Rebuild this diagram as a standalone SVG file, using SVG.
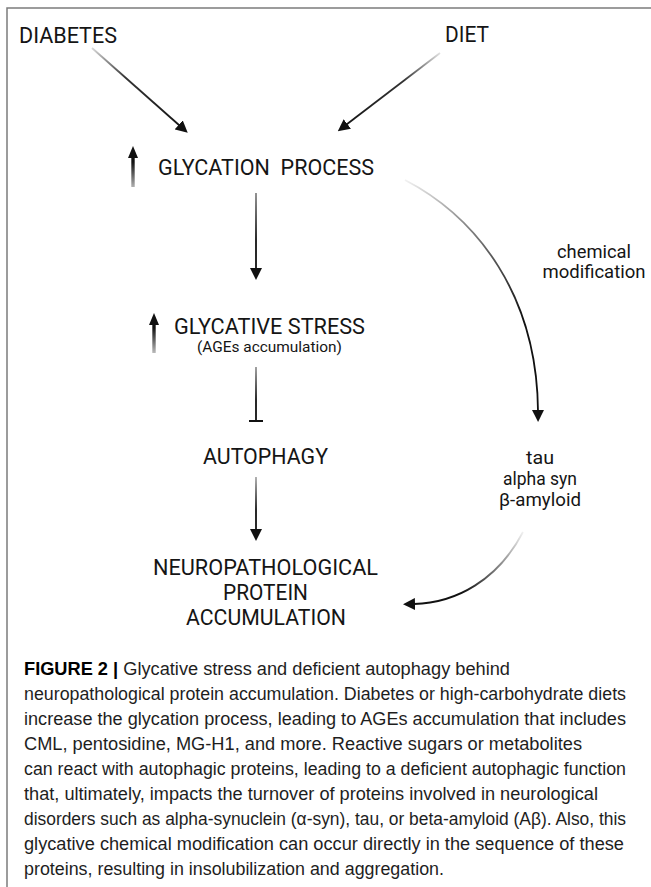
<svg xmlns="http://www.w3.org/2000/svg" width="651" height="887" viewBox="0 0 651 887">
<style>
.lbl{font-family:Roboto,"Liberation Sans",sans-serif;fill:#151515}
.big{font-size:22.5px}
.mid{font-size:18.5px}
.sml{font-size:15px}
.cap{font-family:"Liberation Sans",Arial,sans-serif;font-size:17.5px;fill:#1e1e1e}
.ln{fill:none;stroke-width:1.8}
.up{fill:none;stroke-width:3.4}
.frame{stroke:#7c7c7c;stroke-width:1.5;fill:none}
</style>
<defs>
<marker id="ah" viewBox="0 0 12 12" refX="1" refY="6" markerWidth="12" markerHeight="12" markerUnits="userSpaceOnUse" orient="auto">
<path d="M0,0 L12,6 L0,12 z" fill="#111"/>
</marker>
<marker id="ahs" viewBox="0 0 12 10" refX="1" refY="5" markerWidth="12" markerHeight="10" markerUnits="userSpaceOnUse" orient="auto">
<path d="M0,0 L12,5 L0,10 z" fill="#111"/>
</marker>
<linearGradient id="gDiab" gradientUnits="userSpaceOnUse" x1="92" y1="48" x2="188" y2="133">
<stop offset="0" stop-color="#d8d8d8"/><stop offset="0.35" stop-color="#333"/><stop offset="1" stop-color="#111"/>
</linearGradient>
<linearGradient id="gDiet" gradientUnits="userSpaceOnUse" x1="440" y1="53" x2="337" y2="132">
<stop offset="0" stop-color="#e0e0e0"/><stop offset="0.35" stop-color="#333"/><stop offset="1" stop-color="#111"/>
</linearGradient>
<linearGradient id="gCurve" gradientUnits="userSpaceOnUse" x1="405" y1="180" x2="520" y2="320">
<stop offset="0" stop-color="#f2f2f2"/><stop offset="0.4" stop-color="#888"/><stop offset="1" stop-color="#111"/>
</linearGradient>
<linearGradient id="gLow" gradientUnits="userSpaceOnUse" x1="523" y1="532" x2="462" y2="593">
<stop offset="0" stop-color="#f0f0f0"/><stop offset="1" stop-color="#111"/>
</linearGradient>
<linearGradient id="gV1" gradientUnits="userSpaceOnUse" x1="0" y1="193" x2="0" y2="240">
<stop offset="0" stop-color="#888"/><stop offset="1" stop-color="#111"/>
</linearGradient>
<linearGradient id="gV2" gradientUnits="userSpaceOnUse" x1="0" y1="367" x2="0" y2="400">
<stop offset="0" stop-color="#999"/><stop offset="1" stop-color="#111"/>
</linearGradient>
<linearGradient id="gV3" gradientUnits="userSpaceOnUse" x1="0" y1="477" x2="0" y2="510">
<stop offset="0" stop-color="#aaa"/><stop offset="1" stop-color="#111"/>
</linearGradient>
<linearGradient id="gUp1" gradientUnits="userSpaceOnUse" x1="0" y1="162" x2="0" y2="187">
<stop offset="0" stop-color="#111"/><stop offset="1" stop-color="#b0b0b0"/>
</linearGradient>
<linearGradient id="gUp2" gradientUnits="userSpaceOnUse" x1="0" y1="328" x2="0" y2="353">
<stop offset="0" stop-color="#111"/><stop offset="1" stop-color="#bbb"/>
</linearGradient>
</defs>
<rect width="651" height="887" fill="#fff"/>
<path class="frame" d="M7,887 L7,8 L651,8"/>

<g id="connectors">
<path class="ln" stroke="url(#gDiab)" d="M92,48 L179.5,125.5" marker-end="url(#ah)"/>
<path class="ln" stroke="url(#gDiet)" d="M440,53 L346.5,124.5" marker-end="url(#ah)"/>
<path class="ln" stroke="url(#gV1)" d="M256,193 L256,269" marker-end="url(#ah)"/>
<path class="ln" stroke="url(#gV2)" d="M256,367 L256,421 M249,421 L263,421"/>
<path class="ln" stroke="url(#gV3)" d="M256,477 L256,530" marker-end="url(#ah)"/>
<path class="ln" stroke="url(#gCurve)" stroke-width="2.2" d="M405,180 C478,218 537,296 538,411" marker-end="url(#ah)"/>
<path class="ln" stroke="url(#gLow)" stroke-width="2.2" d="M523,532 C498,580 456,603 414,604" marker-end="url(#ah)"/>
</g>

<g id="diabetes"><text class="lbl big" x="19" y="43" textLength="98" lengthAdjust="spacingAndGlyphs">DIABETES</text></g>
<g id="diet"><text class="lbl big" x="445" y="42" textLength="44" lengthAdjust="spacingAndGlyphs">DIET</text></g>

<g id="glycation">
<path class="up" stroke="url(#gUp1)" d="M133,187 L133,157" marker-end="url(#ahs)"/>
<text class="lbl big" x="158" y="175" textLength="216" lengthAdjust="spacingAndGlyphs" xml:space="preserve">GLYCATION  PROCESS</text>
</g>

<g id="glycative">
<path class="up" stroke="url(#gUp2)" d="M154,353 L154,324" marker-end="url(#ahs)"/>
<text class="lbl big" x="174" y="334" textLength="191" lengthAdjust="spacingAndGlyphs">GLYCATIVE STRESS</text>
<text class="lbl sml" x="197" y="352" textLength="145" lengthAdjust="spacingAndGlyphs">(AGEs accumulation)</text>
</g>

<g id="autophagy"><text class="lbl big" x="203" y="464" textLength="125" lengthAdjust="spacingAndGlyphs">AUTOPHAGY</text></g>

<g id="neuro">
<text class="lbl big" x="153" y="575" textLength="225" lengthAdjust="spacingAndGlyphs">NEUROPATHOLOGICAL</text>
<text class="lbl big" x="223" y="600" textLength="85" lengthAdjust="spacingAndGlyphs">PROTEIN</text>
<text class="lbl big" x="186" y="625" textLength="160" lengthAdjust="spacingAndGlyphs">ACCUMULATION</text>
</g>

<g id="chemmod">
<text class="lbl mid" x="594" y="258" text-anchor="middle" textLength="74" lengthAdjust="spacingAndGlyphs">chemical</text>
<text class="lbl mid" x="594" y="278" text-anchor="middle" textLength="103" lengthAdjust="spacingAndGlyphs">modification</text>
</g>

<g id="proteins">
<text class="lbl mid" x="540" y="464" text-anchor="middle" textLength="28" lengthAdjust="spacingAndGlyphs">tau</text>
<text class="lbl mid" x="540" y="485" text-anchor="middle" textLength="74" lengthAdjust="spacingAndGlyphs">alpha syn</text>
<text class="lbl mid" x="540" y="506" text-anchor="middle" textLength="82" lengthAdjust="spacingAndGlyphs">β-amyloid</text>
</g>

<g id="caption">
<text class="cap" x="24" y="675" textLength="486" lengthAdjust="spacingAndGlyphs"><tspan font-weight="bold" fill="#000">FIGURE 2 |</tspan> Glycative stress and deficient autophagy behind</text>
<text class="cap" x="24" y="700" textLength="602" lengthAdjust="spacingAndGlyphs">neuropathological protein accumulation. Diabetes or high-carbohydrate diets</text>
<text class="cap" x="24" y="725" textLength="602" lengthAdjust="spacingAndGlyphs">increase the glycation process, leading to AGEs accumulation that includes</text>
<text class="cap" x="24" y="750" textLength="558" lengthAdjust="spacingAndGlyphs">CML, pentosidine, MG-H1, and more. Reactive sugars or metabolites</text>
<text class="cap" x="24" y="775" textLength="602" lengthAdjust="spacingAndGlyphs">can react with autophagic proteins, leading to a deficient autophagic function</text>
<text class="cap" x="24" y="800" textLength="574" lengthAdjust="spacingAndGlyphs">that, ultimately, impacts the turnover of proteins involved in neurological</text>
<text class="cap" x="24" y="825" font-size="17" textLength="602" lengthAdjust="spacingAndGlyphs">disorders such as alpha-synuclein (α-syn), tau, or beta-amyloid (Aβ). Also, this</text>
<text class="cap" x="24" y="850" textLength="600" lengthAdjust="spacingAndGlyphs">glycative chemical modification can occur directly in the sequence of these</text>
<text class="cap" x="24" y="875" textLength="420" lengthAdjust="spacingAndGlyphs">proteins, resulting in insolubilization and aggregation.</text>
</g>
</svg>
